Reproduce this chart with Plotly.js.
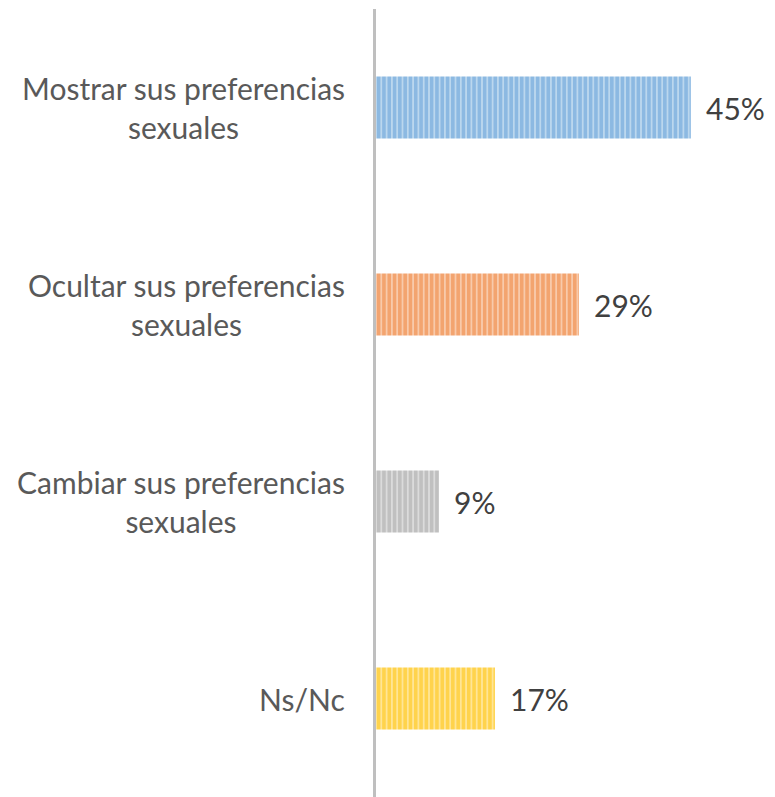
<!DOCTYPE html>
<html>
<head>
<meta charset="utf-8">
<script src="https://cdn.plot.ly/plotly-3.0.1.min.js"></script>
<style>html,body{margin:0;padding:0;background:#fff;}#chart{width:775px;height:797px;}</style>
</head>
<body>
<div id="chart"></div>
<script>
var categories = ["Mostrar sus preferencias<br>sexuales", "Ocultar sus preferencias<br>sexuales", "Cambiar sus preferencias<br>sexuales", "Ns/Nc"];
var values = [45, 29, 9, 17];
var colors = ["#5B9BD5", "#ED7D31", "#A5A5A5", "#FFC000"];
var lightColors = ["#BDD7EE", "#F8CBAD", "#DBDBDB", "#FFE699"];

var FONT = "Lato, 'Open Sans', sans-serif";

var traces = categories.map(function(c, i) {
  return {
    type: "bar",
    orientation: "h",
    y: [c],
    x: [values[i]],
    marker: {
      color: lightColors[i],
      line: {width: 0},
      pattern: {shape: "|", fgcolor: colors[i], bgcolor: lightColors[i], size: 5.3, solidity: 0.68, fillmode: "overlay"}
    },
    hoverinfo: "none",
    showlegend: false
  };
});

var annotations = [];
categories.forEach(function(c, i) {
  annotations.push({
    xref: "paper", yref: "y", x: -0.074, y: c, xanchor: "right", yanchor: "middle",
    text: c, showarrow: false, align: "center",
    font: {family: FONT, size: 30, color: "#595959"}
  });
  annotations.push({
    xref: "x", yref: "y", x: values[i], y: c, xanchor: "left", yanchor: "middle",
    xshift: 13, text: values[i] + "%", showarrow: false,
    font: {family: FONT, size: 30, color: "#404040"}
  });
});

var layout = {
  width: 775, height: 797,
  margin: {l: 376, r: 10, t: 9, b: 0, pad: 0},
  paper_bgcolor: "#fff", plot_bgcolor: "#fff",
  barmode: "overlay",
  bargap: 0.685,
  xaxis: {range: [0, 55.6], visible: false, fixedrange: true},
  yaxis: {
    type: "category", categoryorder: "array", categoryarray: categories,
    autorange: "reversed", showticklabels: false, ticks: "",
    showline: true, linecolor: "#BFBFBF", linewidth: 3.5, showgrid: false, zeroline: false
  },
  annotations: annotations
};

Plotly.newPlot("chart", traces, layout, {staticPlot: true, displayModeBar: false});
</script>
</body>
</html>
